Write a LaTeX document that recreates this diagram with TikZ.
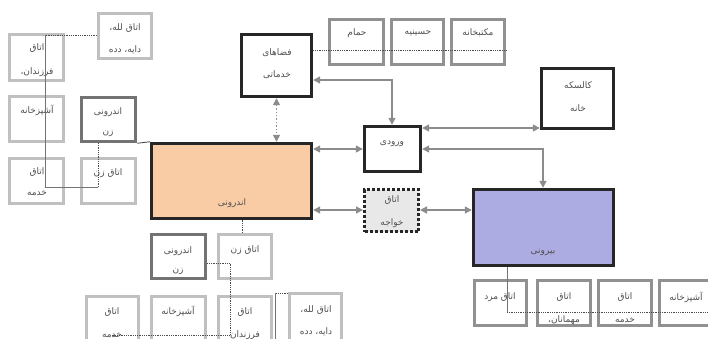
\documentclass[tikz,border=0pt]{standalone}
\usepackage{fontspec}
\usetikzlibrary{arrows.meta,calc}
\TeXXeTstate=1
\newfontfamily\fafont[Script=Arabic]{DejaVu Sans}
\newcommand\fr[1]{\beginR #1\endR}
\definecolor{peach}{RGB}{250,204,166}
\definecolor{lav}{RGB}{172,172,226}
\definecolor{khg}{RGB}{232,232,232}
\definecolor{txtc}{RGB}{80,80,80}
\definecolor{arrc}{RGB}{140,140,140}
\definecolor{litec}{RGB}{192,192,192}
\definecolor{medc}{RGB}{145,145,145}
\definecolor{darkc}{RGB}{115,115,115}
\newcommand\mkbox[6]{\node[#6, minimum width={(#4-#2-3)*1pt}, minimum height={(#5-#3-3)*1pt}] (#1) at ({(#2+#4)/2},{(#3+#5)/2}) {};}
\tikzset{
  bxbase/.style={rectangle, inner sep=0pt, line width=3pt},
  mainbox/.style={bxbase, draw=black!85, line width=3.4pt},
  litebox/.style={bxbase, draw=litec},
  medbox/.style={bxbase, draw=medc},
  darkbox/.style={bxbase, draw=darkc, line width=3.5pt},
  txt/.style={font=\fafont\fontsize{9}{10}\selectfont, text=txtc, inner sep=0pt},
  arr/.style={draw=arrc, line width=1.4pt, {Triangle[length=7pt,width=7pt,fill=arrc]}-{Triangle[length=7pt,width=7pt,fill=arrc]}},
  dotln/.style={draw=black!70, line width=0.8pt, densely dotted},
  thinln/.style={draw=black!55, line width=0.7pt},
}
\begin{document}
\begin{tikzpicture}[x=1pt,y=-1pt]
\useasboundingbox (0,0) rectangle (708,338);
\clip (0,0) rectangle (708,338);
\fill[white] (0,0) rectangle (708,338);
% top-left cluster
\mkbox{lale1}{97}{12}{153}{60}{litebox}
\mkbox{farz1}{8}{33}{65}{82}{litebox}
\mkbox{ashp1}{8}{95}{65}{143}{litebox}
\mkbox{andz1}{80}{96}{137}{143}{darkbox}
\mkbox{khad1}{8}{157}{65}{205}{litebox}
\mkbox{zan1}{80}{157}{137}{205}{litebox}
% main boxes
\mkbox{fz}{240}{33}{313}{98}{mainbox}
\mkbox{hm}{328}{18}{385}{66}{medbox}
\mkbox{hs}{390}{18}{445}{66}{medbox}
\mkbox{mk}{450}{18}{506}{66}{medbox}
\mkbox{kl}{540}{67}{615}{130}{mainbox}
\mkbox{vr}{363}{125}{422}{173}{mainbox}
\mkbox{an}{150}{142}{313}{220}{mainbox, fill=peach}
\mkbox{kh}{363}{188}{420}{233}{mainbox, line width=3pt, fill=khg, dotted}
\mkbox{br}{472}{188}{615}{267}{mainbox, fill=lav}
% bottom right row
\mkbox{b1}{473}{279}{528}{327}{medbox}
\mkbox{b2}{536}{279}{592}{327}{medbox}
\mkbox{b3}{597}{279}{653}{327}{medbox}
\mkbox{b4}{658}{279}{715}{327}{medbox}
% bottom-left cluster
\mkbox{andz2}{150}{233}{207}{280}{darkbox}
\mkbox{zan2}{217}{233}{273}{280}{litebox}
\mkbox{khad2}{85}{295}{140}{352}{litebox}
\mkbox{ashp2}{150}{295}{207}{352}{litebox}
\mkbox{farz2}{217}{295}{273}{352}{litebox}
\mkbox{lale2}{288}{292}{343}{352}{litebox}
% texts
\node[txt] (lale1-a) at (125,28) {\fr{اتاق لله،}};
\node[txt] (lale1-b) at (125,50) {\fr{دایه، دده}};
\node[txt] (farz1-a) at (37,48) {\fr{اتاق}};
\node[txt] (farz1-b) at (37,72) {\fr{فرزندان،}};
\node[txt] (ashp1-a) at (37,110) {\fr{آشپزخانه}};
\node[txt] (andz1-a) at (108,112) {\fr{اندرونی}};
\node[txt] (andz1-b) at (108,134) {\fr{زن}};
\node[txt] (khad1-a) at (37,172) {\fr{اتاق}};
\node[txt] (khad1-b) at (37,193) {\fr{خدمه}};
\node[txt] (zan1-a) at (108,173) {\fr{اتاق زن}};
\node[txt] (fz-a) at (277,53) {\fr{فضاهای}};
\node[txt] (fz-b) at (277,75) {\fr{خدماتی}};
\node[txt] (hm-a) at (357,33) {\fr{حمام}};
\node[txt] (hs-a) at (418,33) {\fr{حسینیه}};
\node[txt] (mk-a) at (478,33) {\fr{مکتبخانه}};
\node[txt] (kl-a) at (578,85) {\fr{کالسکه}};
\node[txt] (kl-b) at (578,108) {\fr{خانه}};
\node[txt] (vr-a) at (392,144) {\fr{ورودی}};
\node[txt] (an-a) at (232,203) {\fr{اندرونی}};
\node[txt] (kh-a) at (392,200) {\fr{اتاق}};
\node[txt] (kh-b) at (392,223) {\fr{خواجه}};
\node[txt] (br-a) at (543,252) {\fr{بیرونی}};
\node[txt] (b1-a) at (500,297) {\fr{اتاق مرد}};
\node[txt] (b2-a) at (564,297) {\fr{اتاق}};
\node[txt] (b2-b) at (564,320) {\fr{مهمانان،}};
\node[txt] (b3-a) at (625,297) {\fr{اتاق}};
\node[txt] (b3-b) at (625,320) {\fr{خدمه}};
\node[txt] (b4-a) at (686,297) {\fr{آشپزخانه}};
\node[txt] (andz2-a) at (178,251) {\fr{اندرونی}};
\node[txt] (andz2-b) at (178,272) {\fr{زن}};
\node[txt] (zan2-a) at (245,250) {\fr{اتاق زن}};
\node[txt] (khad2-a) at (112,312) {\fr{اتاق}};
\node[txt] (khad2-b) at (112,335) {\fr{خدمه}};
\node[txt] (ashp2-a) at (178,311) {\fr{آشپزخانه}};
\node[txt] (farz2-a) at (245,312) {\fr{اتاق}};
\node[txt] (farz2-b) at (245,335) {\fr{فرزندان}};
\node[txt] (lale2-a) at (316,310) {\fr{اتاق لله،}};
\node[txt] (lale2-b) at (316,332) {\fr{دایه، دده}};
% coordinates
\coordinate (tl1) at (45,35);
\coordinate (tl2) at (45,187);
\coordinate (tl3) at (98,187);
\coordinate (bl1) at (230,263);
\coordinate (bl2) at (230,335);
\coordinate (bl3) at (112,335);
\coordinate (bl4) at (275,293);
\coordinate (bl5) at (275,345);
\coordinate (br1) at (507,312);
\coordinate (br2) at (715,312);
\coordinate (tp) at (0,50);
\coordinate (ar2) at (392,80);
\coordinate (ar3) at (0,149);
\coordinate (ar4) at (0,210);
\coordinate (ar6) at (0,128);
\coordinate (ar7) at (543,149);
% thin connectors
\draw[dotln] (lale1.west |- tl1) -- (tl1);
\draw[thinln] (tl1) -- (tl2) -- (tl3);
\draw[dotln] (tl3) -- (andz1.south -| tl3);
\draw[draw=black!75, line width=0.8pt] (andz1.south east) -- (an.north west);
\draw[dotln] (fz.east |- tp) -- (mk.east |- tp);
\draw[dotln] (zan2.north -| 242,0) -- (an.south -| 242,0);
\draw[dotln] (andz2.east |- bl1) -- (bl1) -- (bl2) -- (bl3);
\draw[dotln] (lale2.west |- bl4) -- (bl4);
\draw[thinln] (bl4) -- (bl5);
\draw[thinln] (br.south -| br1) -- (br1);
\draw[dotln] (br1) -- (br2);
% arrows
\draw[arr, dotted] (fz.south) -- (an.north -| fz.south);
\draw[arr] (fz.east |- ar2) -- (ar2) -- (ar2 |- vr.north);
\draw[arr] (an.east |- ar3) -- (vr.west |- ar3);
\draw[arr] (an.east |- ar4) -- (kh.west |- ar4);
\draw[arr] (kh.east |- ar4) -- (br.west |- ar4);
\draw[arr] (vr.east |- ar6) -- (kl.west |- ar6);
\draw[arr] (vr.east |- ar7) -- (ar7) -- (ar7 |- br.north);
\end{tikzpicture}
\end{document}
